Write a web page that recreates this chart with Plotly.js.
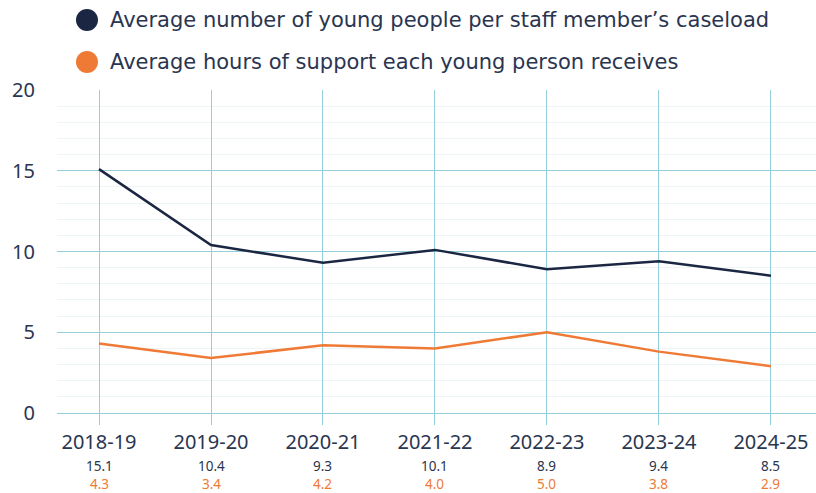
<!DOCTYPE html>
<html>
<head>
<meta charset="utf-8">
<script src="https://cdn.plot.ly/plotly-3.0.1.min.js"></script>
<style>html,body{margin:0;padding:0;background:#fff;}#chart{width:816px;height:493px;}</style>
</head>
<body>
<div id="chart"></div>
<script>
const years = ["2018-19","2019-20","2020-21","2021-22","2022-23","2023-24","2024-25"];
const caseload = [15.1, 10.4, 9.3, 10.1, 8.9, 9.4, 8.5];
const hours = [4.3, 3.4, 4.2, 4.0, 5.0, 3.8, 2.9];
const seriesNames = ["Average number of young people per staff member\u2019s caseload", "Average hours of support each young person receives"];
const navy = "#1b2742";
const orange = "#ef7a35";
const gridBlue = "#93cfdc";
const FONT = "Noto Sans, sans-serif";
const LFONT = "DejaVu Sans, sans-serif";

const idx = years.map((_, i) => i);

const traces = [
  {x: idx, y: caseload, type: "scatter", mode: "lines", name: seriesNames[0], line: {color: navy, width: 2.5}, showlegend: false, hoverinfo: "skip"},
  {x: idx, y: hours, type: "scatter", mode: "lines", name: seriesNames[1], line: {color: orange, width: 2.5}, showlegend: false, hoverinfo: "skip"}
];

const annotations = [];
idx.forEach(i => {
  annotations.push({x: i, xref: "x", y: -0.1641, yref: "paper", text: caseload[i].toFixed(1), showarrow: false, borderpad: 0, xanchor: "center", yanchor: "middle", font: {family: FONT, size: 13.5, color: "#2a3550"}});
  annotations.push({x: i, xref: "x", y: -0.2183, yref: "paper", text: hours[i].toFixed(1), showarrow: false, borderpad: 0, xanchor: "center", yanchor: "middle", font: {family: FONT, size: 13.5, color: orange}});
});
const legendY = [1.2167, 1.0867];
const legendColors = [navy, orange];
const shapes = [];
seriesNames.forEach((n, k) => {
  annotations.push({x: 0.0672, xref: "paper", y: legendY[k], yref: "paper", text: n, showarrow: false, xanchor: "left", yanchor: "middle", font: {family: LFONT, size: 21, color: "#2a3550"}});
  shapes.push({type: "circle", xref: "paper", yref: "paper", xsizemode: "pixel", ysizemode: "pixel", xanchor: 0.0395, yanchor: legendY[k], x0: -11, x1: 11, y0: -11, y1: 11, fillcolor: legendColors[k], line: {width: 0}});
});

const layout = {
  width: 816, height: 493,
  margin: {l: 57, r: 0, t: 90, b: 80},
  paper_bgcolor: "#fff", plot_bgcolor: "#fff",
  showlegend: false,
  xaxis: {
    range: [-0.375, 6.402], tickmode: "array", tickvals: idx, ticktext: years,
    showgrid: true, gridcolor: gridBlue, gridwidth: 1,
    ticks: "outside", ticklen: 11, tickcolor: gridBlue, tickwidth: 1,
    tickfont: {family: FONT, size: 20, color: "#2a3550"},
    zeroline: false, showline: false, fixedrange: true
  },
  yaxis: {
    range: [0, 20], tickmode: "linear", tick0: 0, dtick: 5,
    showgrid: true, gridcolor: gridBlue, gridwidth: 1,
    zeroline: true, zerolinecolor: gridBlue, zerolinewidth: 1,
    minor: {dtick: 1, showgrid: true, gridcolor: "#edf5f8", gridwidth: 1},
    ticks: "", ticklabelstandoff: 21,
    tickfont: {family: FONT, size: 20, color: "#2a3550"},
    showline: false, fixedrange: true
  },
  annotations: annotations,
  shapes: shapes
};

Plotly.newPlot("chart", traces, layout, {displayModeBar: false, staticPlot: true});
</script>
</body>
</html>
